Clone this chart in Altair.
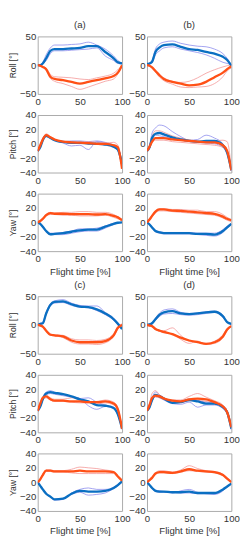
import altair as alt
import pandas as pd

XS = [0, 3, 6, 10, 15, 20, 30, 40, 50, 60, 70, 80, 90, 95, 100]

# ---- (a) ----
ROLL_A_BLUE = [0, 0, 3, 12, 25, 28, 28, 29, 30, 33, 33, 23, 12, 5, 3]
ROLL_A_BLUE_T1 = [0, 1, 5, 18, 30, 35, 35, 36, 37, 40, 35, 28, 16, 8, 3]
ROLL_A_BLUE_T2 = [0, -1, 2, 8, 20, 25, 25, 26, 27, 28, 30, 16, 8, 3, 2]
ROLL_A_ORANGE = [0, -1, -3, -7, -20, -24, -26, -29, -32, -29, -26, -23, -19, -13, 0]
ROLL_A_ORANGE_T1 = [0, 0, -2, -5, -16, -20, -21, -22, -24, -25, -22, -19, -14, -8, 0]
ROLL_A_ORANGE_T2 = [0, -2, -4, -9, -23, -28, -32, -37, -42, -38, -33, -28, -24, -15, -1]

PITCH_A_BLUE = [-10, -5, 5, 11, 8, 5, 2.5, 1.3, 1.3, 0.4, 0, -1, -4, -8, -28]
PITCH_A_BLUE_T1 = [-10, -4, 6, 12, 9, 5, 1, -3, -2, -8, 3, 1, -3, -10, -30]
PITCH_A_BLUE_T2 = [-10, -5, 4, 10, 8, 5, 3, 4, 4, 3, 4, 2, -2, -6, -25]
PITCH_A_ORANGE = [-10, -2, 6, 12, 9, 6, 3, 2, 1.5, 1, 0, 0, -2, -5, -35]
PITCH_A_ORANGE_T1 = [-10, -1, 7, 14, 10, 6, 2, 1, 2, 3, 2, 1, 2, -2, -35]
PITCH_A_ORANGE_T2 = [-10, -3, 5, 11, 8, 5, 3, 3, 1, 0, -1, -2, -5, -8, -33]

YAW_A_BLUE = [0, -2, -6, -12, -16.5, -16, -15, -13, -11, -10, -10, -6, -2, -0.5, 0]
YAW_A_BLUE_T1 = [0, -2, -7, -13, -17, -17, -17, -15, -13, -12, -12, -8, -3, -1, 0]
YAW_A_BLUE_T2 = [0, -1, -5, -11, -15, -15, -14, -12, -9, -9, -8, -5, -1, 0, 0]
YAW_A_ORANGE = [0, 2, 5, 10, 13, 12, 12, 11.5, 11.5, 11.5, 11, 11.5, 9, 7, 3]
YAW_A_ORANGE_T1 = [0, 2, 6, 11, 14, 13, 14, 14, 15, 15, 14, 14, 11, 8, 4]
YAW_A_ORANGE_T2 = [0, 1, 4, 9, 11, 11, 10, 10, 9, 9, 9, 10, 7, 5, 3]

# ---- (b) ----
ROLL_B_BLUE = [2, 3, 6, 23, 31, 35, 36, 32, 28, 26.5, 23, 20, 14.5, 9, -1]
ROLL_B_BLUE_T1 = [2, 4, 8, 28, 37, 40, 42, 38, 35, 33, 32, 28, 20, 12, 0]
ROLL_B_BLUE_T2 = [1, 2, 4, 18, 25, 30, 32, 28, 25, 22, 18, 12, 5, 3, 1]
ROLL_B_ORANGE = [0, -1, -4, -10, -18, -24, -29, -32, -35, -34, -29, -21, -13, -7, -2]
ROLL_B_ORANGE_T1 = [0, -1, -3, -9, -16, -22, -28, -30, -28, -22, -14, -8, -3, -1, 1]
ROLL_B_ORANGE_T2 = [0, -2, -5, -12, -21, -27, -33, -38, -39, -38, -37, -32, -20, -10, -5]

PITCH_B_BLUE = [-10, -5, 8, 14, 15, 13, 9, 6, 4, 3, 4, 4, -2, -12, -37]
PITCH_B_BLUE_T1 = [-10, -3, 15, 22, 26, 25, 17, 10, 5, 6, 12, 8, 0, -10, -37]
PITCH_B_BLUE_T2 = [-10, -6, 5, 12, 11, 10, 7, 5, 3, 2, 1, 0, -5, -15, -38]
PITCH_B_ORANGE = [-10, -4, 3, 8, 8, 8, 6, 5, 4, 3, 2, 2, -2, -10, -37]
PITCH_B_ORANGE_T1 = [-10, -2, 10, 18, 18, 16, 11, 8, 5, 3, 2, 4, 5, 3, -35]
PITCH_B_ORANGE_T2 = [-10, -5, 2, 5, 5, 5, 3, 2, 1, 0, -1, -2, -5, -12, -36]

YAW_B_BLUE = [0, -3, -7, -12, -14, -15, -15, -15, -15, -16, -16, -17, -12, -7, -2]
YAW_B_BLUE_T1 = [0, -3, -8, -13, -15, -16, -16, -16, -16, -17, -18, -19, -14, -8, -3]
YAW_B_BLUE_T2 = [0, -2, -6, -11, -13, -14, -14, -14, -14, -15, -15, -15, -10, -5, -1]
YAW_B_ORANGE = [0, 4, 9, 15, 18, 18, 16.5, 16, 15, 14, 13, 12, 8, 5, 3]
YAW_B_ORANGE_T1 = [0, 5, 10, 16, 19, 19, 18, 18, 17, 17, 15, 15, 11, 7, 4]
YAW_B_ORANGE_T2 = [0, 3, 8, 13, 16, 16, 15, 14, 13, 12, 11, 10, 6, 3, 1]

# ---- (c) ----
ROLL_C_BLUE = [0, 2, 3, 20, 35, 40, 41, 36, 32, 31, 27, 20, 10, 2, -7]
ROLL_C_BLUE_T1 = [0, 3, 5, 22, 37, 42, 44, 38, 34, 33, 33, 22, 12, 4, -5]
ROLL_C_BLUE_T2 = [0, 1, 2, 18, 33, 38, 39, 34, 31, 30, 25, 18, 8, 0, -8]
ROLL_C_ORANGE = [0, -1, -3, -10, -17, -18, -20, -27, -30, -30, -30, -28, -18, -5, 0]
ROLL_C_ORANGE_T1 = [0, 0, -2, -9, -15, -17, -18, -24, -26, -26, -27, -25, -15, -3, 2]
ROLL_C_ORANGE_T2 = [0, -1, -4, -11, -18, -19, -22, -30, -33, -33, -34, -31, -20, -7, 1]

PITCH_C_BLUE = [-10, -4, 6, 14, 16, 15, 13, 10, 6, 3, -2, -3, -6, -15, -35]
PITCH_C_BLUE_T1 = [-10, -3, 8, 16, 18, 16, 13, 10, 7, -3, -8, -4, -7, -16, -36]
PITCH_C_BLUE_T2 = [-10, -5, 5, 12, 14, 13, 11, 9, 7, 8, 2, -2, -5, -13, -34]
PITCH_C_ORANGE = [-10, 0, 8, 10, 6, 4, 4, 3, 3, 2, 2, 3, 0, -8, -35]
PITCH_C_ORANGE_T1 = [-10, 1, 10, 12, 8, 6, 6, 8, 5, 3, 3, 5, 2, -6, -34]
PITCH_C_ORANGE_T2 = [-10, -1, 6, 8, 5, 3, 3, 2, 1, 1, 0, 1, -2, -10, -36]

YAW_C_BLUE = [0, -5, -10, -16, -20, -24, -23, -16, -12, -13, -13, -12, -8, -4, 1]
YAW_C_BLUE_T1 = [0, -5, -10, -16, -21, -25, -24, -15, -10, -8, -10, -10, -7, -3, 1]
YAW_C_BLUE_T2 = [0, -4, -9, -15, -20, -24, -23, -17, -14, -18, -17, -15, -9, -5, 0]
YAW_C_ORANGE = [0, 4, 10, 16, 16, 15, 15, 15, 16, 15, 15, 15, 14, 8, 2]
YAW_C_ORANGE_T1 = [0, 5, 11, 17, 17, 16, 16, 18, 21, 20, 19, 17, 15, 9, 3]
YAW_C_ORANGE_T2 = [0, 3, 9, 15, 15, 14, 14, 13, 12, 12, 12, 12, 12, 7, 2]

# ---- (d) ----
ROLL_D_BLUE = [0, 1, 3, 10, 18, 22, 24, 20, 19, 20, 22, 23, 15, 5, 2]
ROLL_D_BLUE_T1 = [0, 2, 4, 12, 21, 26, 28, 22, 20, 21, 23, 24, 17, 6, 2]
ROLL_D_BLUE_T2 = [0, 1, 2, 8, 15, 19, 20, 18, 17, 18, 20, 22, 13, 4, 1]
ROLL_D_ORANGE = [0, -1, -2, -7, -10, -12, -16, -22, -27, -30, -33, -30, -20, -8, -2]
ROLL_D_ORANGE_T1 = [0, -1, -2, -6, -9, -10, -5, -18, -28, -30, -32, -28, -17, -6, -1]
ROLL_D_ORANGE_T2 = [0, -2, -3, -8, -11, -14, -15, -25, -32, -28, -34, -32, -22, -10, -3]

PITCH_D_BLUE = [-10, -5, 5, 12, 10, 7, 1, 2, 5, 3, 0, 0, -5, -12, -35]
PITCH_D_BLUE_T1 = [-10, -4, 8, 16, 12, 8, 2, 3, 6, 4, 2, 1, -3, -10, -33]
PITCH_D_BLUE_T2 = [-10, -6, 3, 10, 8, 5, 0, -1, 2, -5, -2, -2, -7, -14, -37]
PITCH_D_ORANGE = [-10, -2, 8, 11, 10, 7, 4, 3, 6, 7, 6, 2, -4, -12, -33]
PITCH_D_ORANGE_T1 = [-10, 0, 14, 18, 12, 8, 5, 5, 10, 14, 9, 4, -2, -10, -32]
PITCH_D_ORANGE_T2 = [-10, -3, 6, 9, 8, 6, 2, 2, 4, 5, 3, 0, -6, -14, -34]

YAW_D_BLUE = [0, -4, -8, -12, -13, -13, -14, -14, -13, -15, -15, -15, -10, -6, -2]
YAW_D_BLUE_T1 = [0, -4, -9, -13, -14, -14, -15, -12, -10, -14, -16, -16, -11, -7, -2]
YAW_D_BLUE_T2 = [0, -3, -7, -11, -12, -13, -14, -15, -15, -16, -16, -17, -12, -6, -3]
YAW_D_ORANGE = [0, 3, 6, 12, 14, 14, 13, 15, 18, 16, 15, 14, 10, 5, 0]
YAW_D_ORANGE_T1 = [0, 4, 8, 13, 16, 16, 14, 17, 23, 19, 16, 15, 11, 6, 1]
YAW_D_ORANGE_T2 = [0, 2, 5, 11, 13, 13, 12, 14, 16, 15, 14, 13, 9, 4, 0]

PANEL_TITLES = ["(a)", "(b)", "(c)", "(d)"]
QUANTITIES = ["Roll", "Pitch", "Yaw"]

SERIES = {
    ("(a)", "Roll"): (ROLL_A_BLUE, ROLL_A_BLUE_T1, ROLL_A_BLUE_T2, ROLL_A_ORANGE, ROLL_A_ORANGE_T1, ROLL_A_ORANGE_T2),
    ("(a)", "Pitch"): (PITCH_A_BLUE, PITCH_A_BLUE_T1, PITCH_A_BLUE_T2, PITCH_A_ORANGE, PITCH_A_ORANGE_T1, PITCH_A_ORANGE_T2),
    ("(a)", "Yaw"): (YAW_A_BLUE, YAW_A_BLUE_T1, YAW_A_BLUE_T2, YAW_A_ORANGE, YAW_A_ORANGE_T1, YAW_A_ORANGE_T2),
    ("(b)", "Roll"): (ROLL_B_BLUE, ROLL_B_BLUE_T1, ROLL_B_BLUE_T2, ROLL_B_ORANGE, ROLL_B_ORANGE_T1, ROLL_B_ORANGE_T2),
    ("(b)", "Pitch"): (PITCH_B_BLUE, PITCH_B_BLUE_T1, PITCH_B_BLUE_T2, PITCH_B_ORANGE, PITCH_B_ORANGE_T1, PITCH_B_ORANGE_T2),
    ("(b)", "Yaw"): (YAW_B_BLUE, YAW_B_BLUE_T1, YAW_B_BLUE_T2, YAW_B_ORANGE, YAW_B_ORANGE_T1, YAW_B_ORANGE_T2),
    ("(c)", "Roll"): (ROLL_C_BLUE, ROLL_C_BLUE_T1, ROLL_C_BLUE_T2, ROLL_C_ORANGE, ROLL_C_ORANGE_T1, ROLL_C_ORANGE_T2),
    ("(c)", "Pitch"): (PITCH_C_BLUE, PITCH_C_BLUE_T1, PITCH_C_BLUE_T2, PITCH_C_ORANGE, PITCH_C_ORANGE_T1, PITCH_C_ORANGE_T2),
    ("(c)", "Yaw"): (YAW_C_BLUE, YAW_C_BLUE_T1, YAW_C_BLUE_T2, YAW_C_ORANGE, YAW_C_ORANGE_T1, YAW_C_ORANGE_T2),
    ("(d)", "Roll"): (ROLL_D_BLUE, ROLL_D_BLUE_T1, ROLL_D_BLUE_T2, ROLL_D_ORANGE, ROLL_D_ORANGE_T1, ROLL_D_ORANGE_T2),
    ("(d)", "Pitch"): (PITCH_D_BLUE, PITCH_D_BLUE_T1, PITCH_D_BLUE_T2, PITCH_D_ORANGE, PITCH_D_ORANGE_T1, PITCH_D_ORANGE_T2),
    ("(d)", "Yaw"): (YAW_D_BLUE, YAW_D_BLUE_T1, YAW_D_BLUE_T2, YAW_D_ORANGE, YAW_D_ORANGE_T1, YAW_D_ORANGE_T2),
}

W, H = 88, 60
LABEL_FONT = "Liberation Sans"
TITLE_FONT = "Liberation Sans"


def panel_df(arrs):
    names = [("blue", "mean", "b0"), ("blue", "thin", "b1"), ("blue", "thin", "b2"),
             ("orange", "mean", "o0"), ("orange", "thin", "o1"), ("orange", "thin", "o2")]
    rows = []
    for (grp, kind, sid), arr in zip(names, arrs):
        for x, y in zip(XS, arr):
            rows.append({"x": x, "y": y, "grp": grp, "kind": kind, "sid": sid})
    return pd.DataFrame(rows)


def make_panel(letter, qty, col):
    df = panel_df(SERIES[(letter, qty)])
    if qty == "Roll":
        ydom, yvals = [-50, 50], [-50, 0, 50]
    else:
        ydom, yvals = [-40, 40], [-40, -20, 0, 20, 40]
    xenc = alt.X("x:Q", scale=alt.Scale(domain=[0, 100], nice=False),
                 axis=alt.Axis(values=[0, 50, 100]),
                 title="Flight time [%]" if qty == "Yaw" else None)
    yenc = alt.Y("y:Q", scale=alt.Scale(domain=ydom, nice=False),
                 axis=alt.Axis(values=yvals),
                 title=f"{qty} [°]" if col == 0 else None)
    base = alt.Chart(df).encode(x=xenc, y=yenc, detail="sid:N")
    thin = base.transform_filter(alt.datum.kind == "thin").mark_line(
        strokeWidth=0.9, opacity=0.85, interpolate="monotone", clip=True
    ).encode(color=alt.Color("grp:N", scale=alt.Scale(domain=["blue", "orange"],
                                                       range=["#8484ec", "#f39090"]), legend=None))
    mean_b = base.transform_filter((alt.datum.kind == "mean") & (alt.datum.grp == "blue")).mark_line(
        strokeWidth=2.4, color="#0a6fc2", interpolate="monotone", clip=True)
    mean_o = base.transform_filter((alt.datum.kind == "mean") & (alt.datum.grp == "orange")).mark_line(
        strokeWidth=2.4, color="#ff5016", interpolate="monotone", clip=True)
    ch = alt.layer(thin, mean_b, mean_o).properties(width=W, height=H)
    if qty == "Roll":
        ch = ch.properties(title=alt.Title(letter, fontSize=10, offset=2, fontWeight="normal",
                                           font=TITLE_FONT, color="#333333"))
    return ch


def spacer():
    return alt.Chart(pd.DataFrame({"v": [0]})).mark_point(opacity=0).encode(
        x=alt.X("v:Q", axis=None), y=alt.Y("v:Q", axis=None)
    ).properties(width=W, height=3, view=alt.ViewBackground(strokeOpacity=0))


charts = []
for pair in [("(a)", "(b)"), ("(c)", "(d)")]:
    for q in QUANTITIES:
        for ci, letter in enumerate(pair):
            charts.append(make_panel(letter, q, ci))
    if pair[0] == "(a)":
        charts.append(spacer())
        charts.append(spacer())

chart = alt.concat(*charts, columns=2, spacing={"row": 22, "column": 26}, bounds="flush").properties(
    padding=0
).configure_view(stroke="#a8a8a8", strokeWidth=1).configure_axis(
    grid=False, ticks=False, domain=False, labelFlush=False,
    labelFont=LABEL_FONT, labelFontSize=10, labelColor="#333333", labelPadding=3,
    titleFont=TITLE_FONT, titleFontSize=10, titleFontWeight="normal", titleColor="#333333",
    titlePadding=3,
).configure_axisY(titleFontSize=9, titlePadding=2, labelPadding=2)

chart.save("out.html", embed_options={"renderer": "svg", "actions": False})
